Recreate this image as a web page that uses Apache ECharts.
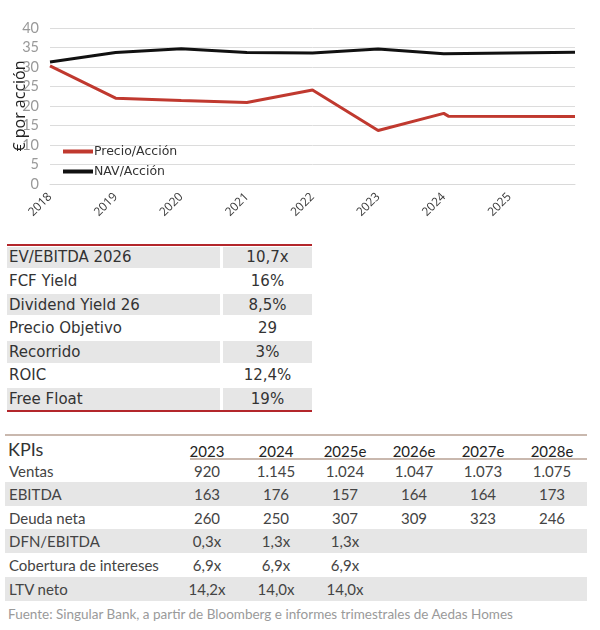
<!DOCTYPE html>
<html>
<head>
<meta charset="utf-8">
<script src="https://cdn.jsdelivr.net/npm/echarts@6/dist/echarts.min.js"></script>
<style>
  html, body { margin: 0; padding: 0; background: #fff; }
  body { width: 600px; height: 630px; position: relative; overflow: hidden; }
  #chart { position: absolute; left: 0; top: 0; width: 600px; height: 222px; }
  .abs { position: absolute; }
  .t1cell { position: absolute; font-family: "DejaVu Sans", sans-serif; font-size: 15px; color: #333; display: flex; align-items: center; box-sizing: border-box; }
  .t2cell { position: absolute; font-family: "Lato", sans-serif; font-size: 15px; color: #444; display: flex; align-items: center; justify-content: center; box-sizing: border-box; }
</style>
</head>
<body>
<div id="chart"></div>
<div id="tables"></div>
<script>
// ---- Chart data ----
const yearTicks = [2018, 2019, 2020, 2021, 2022, 2023, 2024, 2025];
const priceYears = [2018, 2019, 2020, 2021, 2022, 2023, 2024, 2024.07, 2026];
const priceValues = [30.3, 22.0, 21.4, 20.9, 24.1, 13.7, 18.1, 17.4, 17.3];
const navYears = [2018, 2019, 2020, 2021, 2022, 2023, 2024, 2025, 2026];
const navValues = [31.3, 33.7, 34.7, 33.7, 33.6, 34.6, 33.4, 33.6, 33.8];
const seriesNames = ['Precio/Acción', 'NAV/Acción'];
const yAxisTitle = '€ por acción';

// ---- Table 1 data ----
const metricLabels = ['EV/EBITDA 2026', 'FCF Yield', 'Dividend Yield 26', 'Precio Objetivo', 'Recorrido', 'ROIC', 'Free Float'];
const metricValues = ['10,7x', '16%', '8,5%', '29', '3%', '12,4%', '19%'];

// ---- Table 2 data ----
const kpiTitle = 'KPIs';
const kpiYears = ['2023', '2024', '2025e', '2026e', '2027e', '2028e'];
const kpiNames = ['Ventas', 'EBITDA', 'Deuda neta', 'DFN/EBITDA', 'Cobertura de intereses', 'LTV neto'];
const kpiVentas = ['920', '1.145', '1.024', '1.047', '1.073', '1.075'];
const kpiEbitda = ['163', '176', '157', '164', '164', '173'];
const kpiDeuda = ['260', '250', '307', '309', '323', '246'];
const kpiDfn = ['0,3x', '1,3x', '1,3x', '', '', ''];
const kpiCobertura = ['6,9x', '6,9x', '6,9x', '', '', ''];
const kpiLtv = ['14,2x', '14,0x', '14,0x', '', '', ''];
const sourceNote = 'Fuente: Singular Bank, a partir de Bloomberg e informes trimestrales de Aedas Homes';

// ---- Chart ----
const chart = echarts.init(document.getElementById('chart'), null, { renderer: 'canvas' });
const zip = (xs, ys) => xs.map((x, i) => [x, ys[i]]);
chart.setOption({
  animation: false,
  backgroundColor: '#fff',
  grid: { left: 50, right: 25, top: 28, bottom: 38 },
  legend: {
    orient: 'vertical',
    left: 58, top: 140,
    itemWidth: 30, itemHeight: 4, itemGap: 7,
    icon: 'rect',
    textStyle: { fontFamily: 'DejaVu Sans', fontSize: 12.5, color: '#333', padding: [0, 0, 0, -4] },
    data: seriesNames
  },
  xAxis: {
    type: 'value', min: 2018, max: 2026, interval: 1,
    axisLine: { show: true, lineStyle: { color: '#d9d9d9' } },
    axisTick: { show: false },
    splitLine: { show: false },
    axisLabel: {
      rotate: 45, margin: 11,
      fontFamily: 'Open Sans', fontSize: 12, color: '#3a3a3a',
      formatter: v => yearTicks.includes(v) ? String(v) : ''
    }
  },
  yAxis: {
    type: 'value', min: 0, max: 40, interval: 5,
    name: yAxisTitle, nameLocation: 'middle', nameGap: 22, nameRotate: 90,
    nameMoveOverlap: false,
    nameTextStyle: { fontFamily: 'Open Sans', fontSize: 16, fontWeight: 'normal', color: '#222' },
    axisLine: { show: false }, axisTick: { show: false },
    splitLine: { lineStyle: { color: '#dcdcdc', width: 1 } },
    axisLabel: { fontFamily: 'Lato', fontSize: 14.5, color: '#999', margin: 11 }
  },
  series: [
    { name: seriesNames[0], type: 'line', data: zip(priceYears, priceValues), showSymbol: false, symbol: 'none',
      lineStyle: { color: '#c0392f', width: 3 }, itemStyle: { color: '#c0392f' } },
    { name: seriesNames[1], type: 'line', data: zip(navYears, navValues), showSymbol: false, symbol: 'none',
      lineStyle: { color: '#111', width: 3 }, itemStyle: { color: '#111' } }
  ]
});

// ---- Tables ----
const root = document.getElementById('tables');
function el(cls, style, text) {
  const d = document.createElement('div');
  d.className = cls;
  Object.assign(d.style, style);
  if (text !== undefined) d.textContent = text;
  root.appendChild(d);
  return d;
}
const SHADE = '#e6e6e6';
// Table 1
el('abs', { left: '7px', top: '244px', width: '305px', height: '2px', background: '#b3262b' });
metricLabels.forEach((lab, i) => {
  const top = 246.5 + i * 23.63;
  const bg = i % 2 === 0 ? SHADE : 'transparent';
  el('t1cell', { left: '7px', top: top + 'px', width: '213px', height: '21.7px', background: bg, paddingLeft: '2px' }, lab);
  el('t1cell', { left: '223px', top: top + 'px', width: '89px', height: '21.7px', background: bg, justifyContent: 'center' }, metricValues[i]);
});
el('abs', { left: '7px', top: '410px', width: '305px', height: '2px', background: '#b3262b' });

// Table 2
el('abs', { left: '5px', top: '434px', width: '582px', height: '2px', background: '#c9b8ae' });
el('t2cell', { left: '8px', top: '438px', height: '22px', fontSize: '18px', color: '#333', justifyContent: 'flex-start' }, kpiTitle);
const colCenters0 = 207, colStep = 69;
kpiYears.forEach((y, j) => {
  el('t2cell', { left: (colCenters0 + j * colStep - 34.5) + 'px', top: '441px', width: '69px', height: '20px', color: '#222' }, y);
});
el('abs', { left: '190px', top: '458px', width: '397px', height: '1.5px', background: '#c9b8ae' });
const kpiRows = [kpiVentas, kpiEbitda, kpiDeuda, kpiDfn, kpiCobertura, kpiLtv];
kpiNames.forEach((name, i) => {
  const top = 459 + i * 23.65;
  if (i % 2 === 1) el('abs', { left: '5px', top: (top - 0.5) + 'px', width: '582px', height: '24px', background: SHADE });
  el('t2cell', { left: '9px', top: top + 'px', height: '23px', justifyContent: 'flex-start' }, name);
  kpiRows[i].forEach((v, j) => {
    el('t2cell', { left: (colCenters0 + j * colStep - 34.5) + 'px', top: top + 'px', width: '69px', height: '23px' }, v);
  });
});
el('t2cell', { left: '8px', top: '604px', height: '20px', fontSize: '13.5px', color: '#9a9a9a', justifyContent: 'flex-start', whiteSpace: 'nowrap' }, sourceNote);
</script>
</body>
</html>
